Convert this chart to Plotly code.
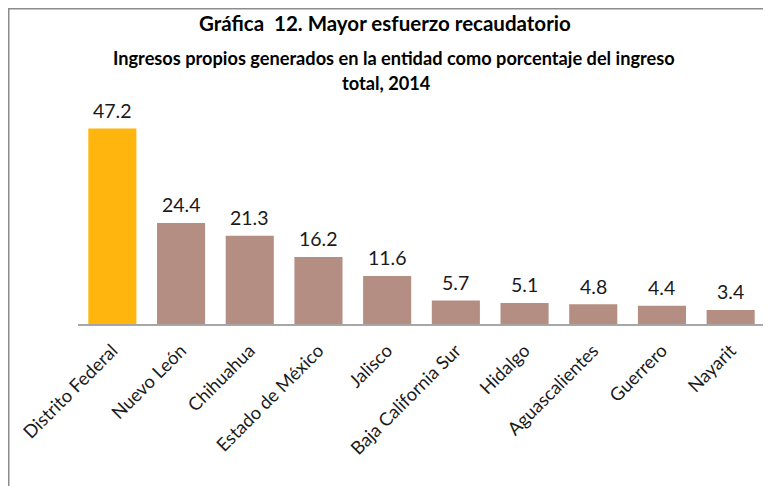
import plotly.graph_objects as go

categories = ["Distrito Federal", "Nuevo León", "Chihuahua", "Estado de México", "Jalisco",
              "Baja California Sur", "Hidalgo", "Aguascalientes", "Guerrero", "Nayarit"]
values = [47.2, 24.4, 21.3, 16.2, 11.6, 5.7, 5.1, 4.8, 4.4, 3.4]
value_labels = ["47.2", "24.4", "21.3", "16.2", "11.6", "5.7", "5.1", "4.8", "4.4", "3.4"]

GOLD = "#FFB50D"
BROWN = "#B58E83"
colors = [GOLD] + [BROWN] * (len(categories) - 1)

# page has an 8px body margin; work in page pixels and convert
OFF = 8
W, H = 771 - OFF, 486 - OFF
L, R, T, B = 78 - OFF, 6, 117 - OFF, 162
PW, PH = W - L - R, H - T - B

def px_x(p):  # page pixel -> paper
    return (p - OFF - L) / PW

def px_y(p):
    return (H - B - (p - OFF)) / PH

FONT = "Lato"

fig = go.Figure()
fig.add_trace(go.Bar(
    x=categories, y=values, marker=dict(color=colors, line=dict(width=0)),
    hoverinfo="skip", cliponaxis=False,
))

annotations = []
for c, v, t in zip(categories, values, value_labels):
    annotations.append(dict(x=c, y=v, xref="x", yref="y", text=t, showarrow=False,
                            yanchor="middle", yshift=18,
                            font=dict(family=FONT, size=19.5, color="#1a1a1a")))

annotations += [
    dict(x=px_x(385), y=px_y(23), xref="paper", yref="paper", showarrow=False,
         text="<b>Gráfica  12. Mayor esfuerzo recaudatorio</b>", xanchor="center", yanchor="middle",
         font=dict(family=FONT, size=20.5, color="#000000")),
    dict(x=px_x(394), y=px_y(58), xref="paper", yref="paper", showarrow=False,
         text="<b>Ingresos propios generados en la entidad como porcentaje del ingreso</b>",
         xanchor="center", yanchor="middle",
         font=dict(family=FONT, size=18.2, color="#000000")),
    dict(x=px_x(386), y=px_y(83), xref="paper", yref="paper", showarrow=False,
         text="<b>total, 2014</b>", xanchor="center", yanchor="middle",
         font=dict(family=FONT, size=18.2, color="#000000")),
]

shapes = [dict(type="rect", xref="paper", yref="paper",
               x0=px_x(8.75), y0=px_y(900), x1=px_x(1200), y1=px_y(8.75),
               line=dict(color="#8C8C8C", width=1.5), fillcolor="rgba(0,0,0,0)", layer="above")]

fig.update_layout(
    width=W, height=H,
    margin=dict(l=L, r=R, t=T, b=B, pad=0, autoexpand=False),
    paper_bgcolor="white", plot_bgcolor="white",
    bargap=0.3, showlegend=False,
    annotations=annotations, shapes=shapes,
    font=dict(family=FONT, size=15, color="#1a1a1a"),
    xaxis=dict(tickangle=-45, showline=True, linecolor="#A6A6A6", linewidth=1.5,
               ticks="", showgrid=False, automargin=False, ticklabelstandoff=7,
               tickfont=dict(family=FONT, size=18.3, color="#1a1a1a")),
    yaxis=dict(range=[0, 50], visible=False, showgrid=False, zeroline=False, automargin=False),
)

fig.write_html("out.html")
